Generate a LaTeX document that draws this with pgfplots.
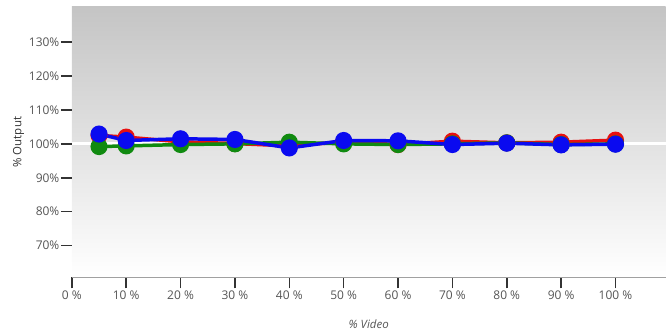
\documentclass[border=0pt]{standalone}
\usepackage{pgfplots}
\pgfplotsset{compat=1.18}
\usepackage{fontspec}
\setmainfont{Open Sans}
\definecolor{tickgray}{HTML}{555555}
\definecolor{axgray}{HTML}{A0A0A0}
\definecolor{sred}{HTML}{E81010}
\definecolor{sgreen}{HTML}{108A10}
\definecolor{sblue}{HTML}{0A0AF0}
\definecolor{mgray}{HTML}{8C8C8C}
\begin{document}
\begin{tikzpicture}
\begin{axis}[
  scale only axis,
  width=595pt, height=271pt,
  xmin=0, xmax=109.2,
  ymin=60.6, ymax=140.4,
  axis x line*=bottom,
  axis y line*=left,
  x axis line style={axgray, line width=0.9pt, -},
  y axis line style={draw=none},
  xtick={0,10,...,100},
  ytick={70,80,...,130},
  xticklabels={0 \%,10 \%,20 \%,30 \%,40 \%,50 \%,60 \%,70 \%,80 \%,90 \%,100 \%},
  yticklabels={70\%,80\%,90\%,100\%,110\%,120\%,130\%},
  xtick align=outside, ytick align=outside,
  major tick length=11pt,
  xtick style={black!80, line width=1.5pt},
  ytick style={black!80, line width=1.5pt},
  ticklabel style={font=\fontsize{12}{14}\selectfont, text=tickgray},
  xticklabel style={yshift=1pt},
  yticklabel style={xshift=2pt},
  xlabel={\itshape \% Video},
  ylabel={\% Output},
  xlabel style={font=\fontsize{11.5}{13}\selectfont, text=tickgray, yshift=-13pt},
  ylabel style={font=\fontsize{11.5}{13}\selectfont, text=black!80, yshift=-2pt},
  axis background/.style={shade, top color=black!23, bottom color=white},
  clip=false,
  every axis plot/.append style={line width=3.5pt, mark=*, mark size=6.8pt,
     mark options={draw=mgray, line width=1.3pt}},
]
\addplot[white, line width=3pt, mark=none] coordinates {(0,100) (109.2,100)};
\addplot[sred, mark options={fill=sred}] coordinates {
 (5,102.5) (10,102) (20,100.6) (30,100.1) (40,99.4) (50,100.6) (60,99.8) (70,100.8) (80,100.3) (90,100.5) (100,101.1)};
\addplot[sgreen, mark options={fill=sgreen}] coordinates {
 (5,99.2) (10,99.4) (20,99.8) (30,100) (40,100.5) (50,100) (60,99.8) (70,100) (80,100.3) (90,99.8) (100,100)};
\addplot[sblue, mark options={fill=sblue}] coordinates {
 (5,102.9) (10,101) (20,101.5) (30,101.3) (40,98.8) (50,101) (60,100.9) (70,99.8) (80,100.2) (90,99.7) (100,99.9)};
\end{axis}
\path (current axis.south west) ++(-72pt,-53pt) coordinate (bl);
\path (current axis.north east) ++(0,7pt) coordinate (tr);
\path (bl) rectangle (tr);
\end{tikzpicture}
\end{document}
